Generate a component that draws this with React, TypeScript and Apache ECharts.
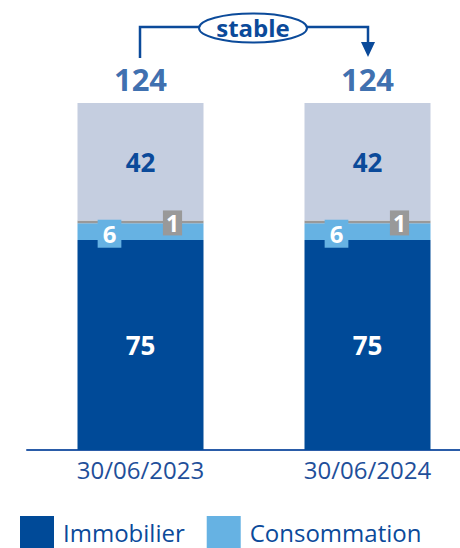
import React, { useEffect, useRef } from "react";
import * as echarts from "echarts";

const categories = ["30/06/2023", "30/06/2024"];
const immobilier = [75, 75];
const consommation = [6, 6];
const autres = [1, 1];
const autresCredits = [42, 42];
const totals = [124, 124];
const annotationText = "stable";

const FONT = "'Open Sans', sans-serif";
const BLUE = "#004A98";
const LIGHT = "#66B2E3";
const GRAY = "#999999";
const PALE = "#C5CEE0";
const TEXT = "#0B4A9A";

export default function App() {
  const ref = useRef<HTMLDivElement>(null);
  useEffect(() => {
    const chart = echarts.init(ref.current!, null, { renderer: "svg" });
    const option: any = {
      animation: false,
      textStyle: { fontFamily: FONT },
      grid: { left: 27, width: 454, top: 103, bottom: 98, outerBoundsMode: "none", containLabel: false },
      legend: {
        data: ["Immobilier", "Consommation"],
        left: 15,
        top: 511,
        icon: "rect",
        itemWidth: 34,
        itemHeight: 33,
        itemGap: 22,
        textStyle: { fontFamily: FONT, fontSize: 24, lineHeight: 24, color: TEXT, padding: [0, 0, 0, 4] },
      },
      xAxis: {
        type: "category",
        data: categories,
        axisLine: { lineStyle: { color: "#2A5CA8", width: 2 } },
        axisTick: { show: false },
        axisLabel: { color: "#1F4F9A", fontSize: 24, margin: 7, fontFamily: FONT },
      },
      yAxis: { type: "value", min: 0, max: 124, show: false, splitLine: { show: false } },
      series: [
        {
          name: "Immobilier",
          type: "bar",
          stack: "t",
          barWidth: 126,
          data: immobilier,
          itemStyle: { color: BLUE },
          label: { show: true, position: "inside", color: "#fff", fontSize: 26, fontWeight: "bold", fontFamily: FONT },
        },
        {
          name: "Consommation",
          type: "bar",
          stack: "t",
          data: consommation,
          itemStyle: { color: LIGHT },
          label: {
            show: true,
            position: "inside",
            offset: [-31, 2],
            color: "#fff",
            fontSize: 24,
            fontWeight: "bold",
            fontFamily: FONT,
            backgroundColor: LIGHT,
            padding: [2, 5],
          },
        },
        {
          name: "Autres",
          type: "bar",
          stack: "t",
          data: autres,
          itemStyle: { color: GRAY },
          label: {
            show: true,
            position: "inside",
            offset: [32, 1],
            color: "#fff",
            fontSize: 23,
            fontWeight: "bold",
            fontFamily: FONT,
            backgroundColor: GRAY,
            padding: [1, 3],
          },
        },
        {
          name: "Autres crédits",
          type: "bar",
          stack: "t",
          data: autresCredits,
          itemStyle: { color: PALE },
          label: { show: true, position: "inside", color: TEXT, fontSize: 26, fontWeight: "bold", fontFamily: FONT },
        },
        {
          name: "Total",
          type: "scatter",
          data: totals,
          symbolSize: 1,
          itemStyle: { color: "rgba(0,0,0,0)" },
          label: {
            show: true,
            position: "top",
            distance: 8,
            color: TEXT,
            fontSize: 31,
            fontWeight: "bold",
            fontFamily: FONT,
          },
        },
      ],
      graphic: [
        {
          type: "polyline",
          shape: { points: [[140, 58], [140, 27], [205, 27]] },
          style: { stroke: TEXT, lineWidth: 2.5, fill: null },
        },
        {
          type: "polyline",
          shape: { points: [[300, 27], [368, 27], [368, 46]] },
          style: { stroke: TEXT, lineWidth: 2.5, fill: null },
        },
        {
          type: "polygon",
          shape: { points: [[361, 42], [375, 42], [368, 57]] },
          style: { fill: TEXT },
        },
        {
          type: "ellipse",
          shape: { cx: 253, cy: 28, rx: 54, ry: 14.5 },
          style: { stroke: TEXT, lineWidth: 2, fill: "#fff" },
        },
        {
          type: "text",
          x: 253,
          y: 27,
          style: {
            text: annotationText,
            fill: TEXT,
            font: `bold 24px ${FONT}`,
            align: "center",
            verticalAlign: "middle",
          },
        },
      ],
    };
    chart.setOption(option);
    return () => chart.dispose();
  }, []);
  return (
    <div
      ref={ref}
      style={{ position: "fixed", left: 0, top: 0, width: 460, height: 548, background: "#fff" }}
    />
  );
}
